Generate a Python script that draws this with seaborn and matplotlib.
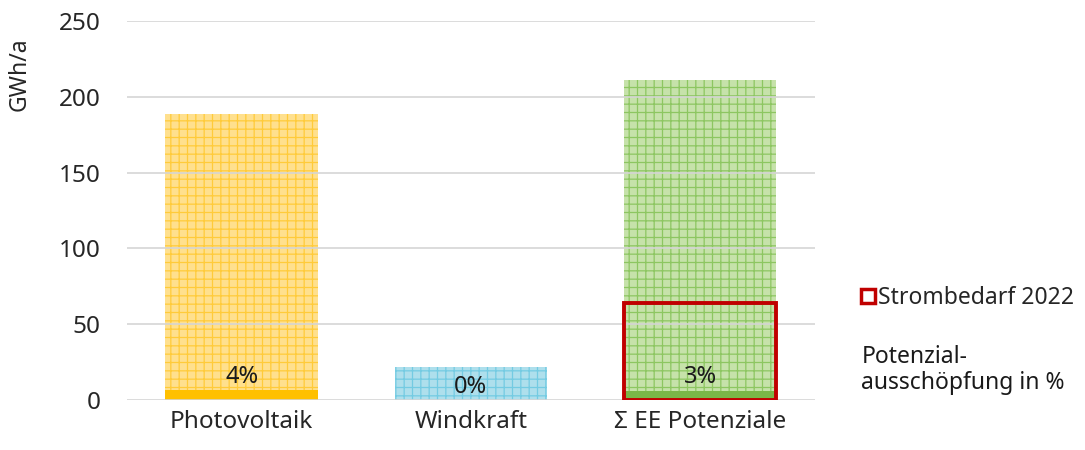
import pandas as pd
import matplotlib.pyplot as plt
import seaborn as sns
from matplotlib.lines import Line2D

# Data
categories = ['Photovoltaik', 'Windkraft', 'Σ EE Potenziale']
potential = [189, 22, 211]          # GWh/a potential
used = [6.5, 0, 6.2]                # GWh/a already used
share_pct = [4, 0, 3]               # Potenzialausschöpfung in %
demand_2022 = [None, None, 64]      # Strombedarf 2022 (only on sum bar)

fill_colors = ['#FFE08E', '#AEDFEC', '#C6E2AA']
hatch_colors = ['#FFCB3A', '#74CBE2', '#8DC661']
used_colors = ['#FFC000', '#4BACC6', '#7AB648']

sns.set_theme(style='white')
plt.rcParams['font.family'] = ['Noto Sans', 'DejaVu Sans']
plt.rcParams['hatch.linewidth'] = 0.9

df = pd.DataFrame({'Kategorie': categories, 'Potenzial': potential,
                   'Genutzt': used, 'Anteil': share_pct})

fig = plt.figure(figsize=(10.85, 4.5), dpi=100)
ax = fig.add_axes([0.117, 0.111, 0.634, 0.842])

sns.barplot(data=df, x='Kategorie', y='Potenzial', hue='Kategorie',
            palette=fill_colors, width=0.665, legend=False, ax=ax,
            linewidth=0, saturation=1)
for patch, hc in zip(ax.patches, hatch_colors):
    patch.set_hatch('++')
    patch.set_edgecolor(hc)
    patch.set_linewidth(0)
    patch.set_zorder(1)

n_pot = len(ax.patches)
sns.barplot(data=df, x='Kategorie', y='Genutzt', hue='Kategorie',
            palette=used_colors, width=0.665, legend=False, ax=ax,
            linewidth=0, saturation=1)
for patch in ax.patches[n_pot:]:
    patch.set_zorder(1.5)

# Strombedarf 2022 as an outlined bar
dem = [d if d is not None else 0 for d in demand_2022]
bars = ax.bar(range(len(categories)), dem, width=0.665, fill=False,
              edgecolor='#C00000', linewidth=2.8, zorder=4)
for b, d in zip(bars, demand_2022):
    if d is None:
        b.set_visible(False)

# percentage labels
for i, (u, p) in enumerate(zip(used, share_pct)):
    ax.text(i, u + 0.8, f'{p}%', ha='center', va='bottom',
            fontsize=17, color='#1a1a1a', zorder=5)

ax.set_xlim(-0.5, 2.5)
ax.set_ylim(0, 250)
ax.set_yticks(range(0, 251, 50))
ax.yaxis.grid(True, color='#D4D4D4', linewidth=1.3, alpha=0.9)
ax.set_axisbelow(False)
for s in ax.spines.values():
    s.set_visible(False)
ax.tick_params(axis='both', length=0, labelsize=17.5, colors='#262626')
ax.tick_params(axis='y', pad=19)
ax.tick_params(axis='x', pad=7)
ax.set_xlabel('')
ax.set_ylabel('GWh/a', fontsize=16.5, color='#262626')
ax.yaxis.set_label_coords(-0.138, 0.86)

handle = Line2D([], [], marker='s', linestyle='none', markersize=10,
                markerfacecolor='white', markeredgecolor='#C00000',
                markeredgewidth=2.5)
fig.legend([handle], ['Strombedarf 2022'], loc='center left',
           bbox_to_anchor=(0.783, 0.338), frameon=False, fontsize=16.5,
           handletextpad=0.05, borderaxespad=0, handlelength=0.8)
fig.text(0.794, 0.122, 'Potenzial-\nausschöpfung in %', fontsize=16.5,
         color='#1a1a1a', va='bottom', ha='left', linespacing=1.1)

fig.savefig('out.png', dpi=100)
